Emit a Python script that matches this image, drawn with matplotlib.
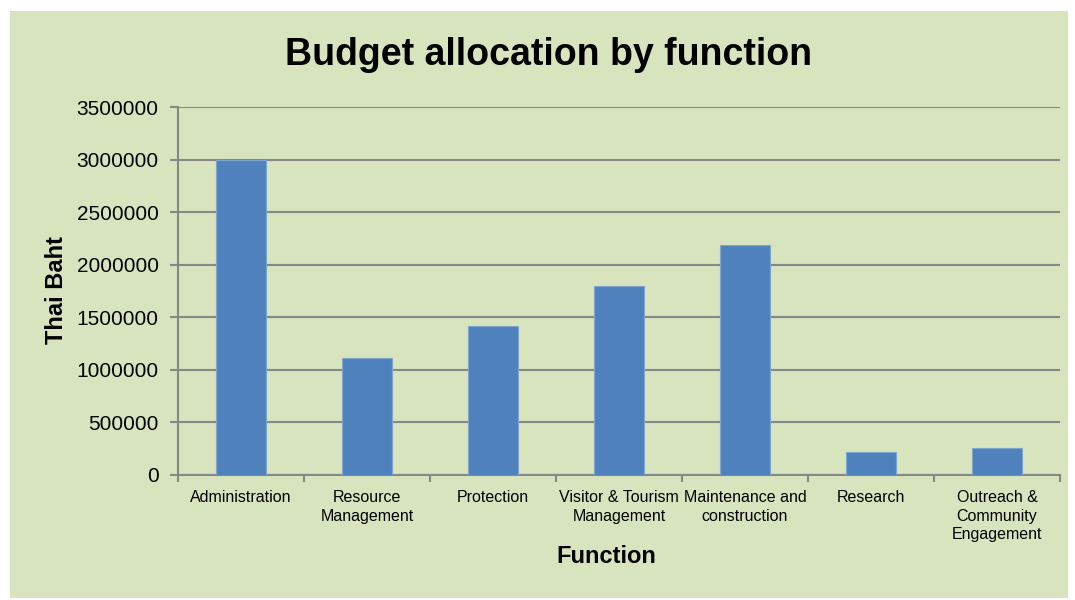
import matplotlib.pyplot as plt
import numpy as np

plt.rcParams['font.family'] = ['Liberation Sans', 'DejaVu Sans']

# --- data ---
functions = ["Administration", "Resource\nManagement", "Protection",
             "Visitor & Tourism\nManagement", "Maintenance and\nconstruction",
             "Research", "Outreach &\nCommunity\nEngagement"]
budget = [3000000, 1115000, 1418000, 1793000, 2183000, 218000, 256000]
y_ticks = [0, 500000, 1000000, 1500000, 2000000, 2500000, 3000000, 3500000]

bg = "#d7e4bd"
bar_color = "#4f81bd"
grid_color = "#878787"

fig = plt.figure(figsize=(10.75, 6), dpi=100)
fig.patch.set_facecolor("white")
# green panel behind everything
fig.patches.append(plt.Rectangle((10/1075, 2/600), 1058/1075, 587/600,
                                 transform=fig.transFigure, facecolor=bg,
                                 edgecolor="none", zorder=-1))

ax = fig.add_axes([178/1075, 125/600, 882/1075, 368/600])
ax.set_facecolor(bg)

x = np.arange(len(functions))
ax.bar(x, budget, width=0.4, color=bar_color, edgecolor="#7ea6cf",
       linewidth=0.8, zorder=3)

ax.set_xlim(-0.5, len(functions) - 0.5)
ax.set_ylim(0, 3500000)
ax.set_yticks(y_ticks)
ax.set_yticklabels([str(v) for v in y_ticks], fontsize=15)
ax.grid(axis="y", color=grid_color, linewidth=1.5, zorder=1)
ax.set_axisbelow(True)

# ticks between categories, labels at centres
ax.set_xticks(np.arange(-0.5, len(functions), 1))
ax.set_xticklabels([])
ax.set_xticks(x, minor=True)
ax.set_xticklabels(functions, minor=True, fontsize=11.5, linespacing=1.3)
ax.tick_params(axis="x", which="major", length=5, color=grid_color, width=1.5)
ax.tick_params(axis="x", which="minor", length=0, pad=11)
ax.tick_params(axis="y", length=6, color=grid_color, width=1.5, pad=8)

for side in ["top", "right"]:
    ax.spines[side].set_visible(False)
for side in ["left", "bottom"]:
    ax.spines[side].set_color(grid_color)
    ax.spines[side].set_linewidth(1.5)

ax.set_xlabel("Function", fontsize=17, fontweight="bold")
ax.xaxis.set_label_coords(0.486, -0.19)
ax.set_ylabel("Thai Baht", fontsize=17, fontweight="bold")
ax.yaxis.set_label_coords(-0.125, 0.503)
fig.text(549/1075, 1 - 55/600, "Budget allocation by function", fontsize=27,
         fontweight="bold", ha="center", va="center")

fig.savefig("out.png", dpi=100, facecolor=fig.get_facecolor())
